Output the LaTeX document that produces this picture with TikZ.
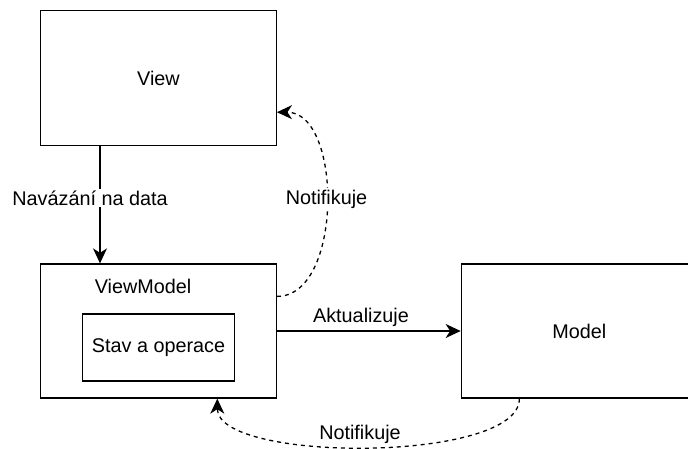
\documentclass[tikz,border=0pt]{standalone}
\usepackage{fontspec}
\setmainfont{Liberation Sans}
\usetikzlibrary{arrows.meta,calc}

\begin{document}
\begin{tikzpicture}[x=1pt,y=-1pt,
  box/.style={draw, line width=1.3pt, inner sep=0pt, font=\fontsize{19.8}{23}\selectfont},
  lbl/.style={font=\fontsize{19.8}{23}\selectfont, inner sep=1.5pt},
  arr/.style={line width=1.3pt, -{Stealth[length=15pt,width=14pt,inset=4.5pt]}},
  dashline/.style={arr, dash pattern=on 4pt off 4pt}
]
\useasboundingbox (0,0) rectangle (688,448);

% main boxes
\node[box, minimum width=235.6pt, minimum height=135pt] (view) at (158.5,78.2) {View};
\node[box, minimum width=235.6pt, minimum height=134pt] (vm) at (158.5,331) {};
\node[lbl] (vmtitle) at (143,286) {ViewModel};
\node[box, minimum width=151.6pt, minimum height=67pt] (state) at (158.5,347.5) {Stav a operace};
\node[box, minimum width=236pt, minimum height=134pt] (model) at (579.3,331) {Model};

% data binding from the view down to the view model
\coordinate (bindx) at (100,0);
\draw[arr] (view.south -| bindx) -- (vm.north -| bindx);
\node[lbl, fill=white] (bindlbl) at (90,198) {Navázání na data};

% view model updates the model
\draw[arr] (vm.east) -- (model.west);
\node[lbl] (updlbl) at (361,317) {Aktualizuje};

% notification from the view model back to the view
\coordinate (vmout) at ([yshift=-33pt]vm.north east);
\coordinate (viewin) at ([yshift=-34pt]view.east);
\draw[dashline] (vmout) .. controls (343,297) and (343,112) .. (viewin);
\node[lbl, fill=white] (notif1) at (326.5,199) {Notifikuje};

% notification from the model back to the view model
\coordinate (modelout) at ([xshift=58.7pt]model.south west);
\coordinate (vmin) at ([xshift=58.8pt]vm.south);
\draw[dashline] (modelout) .. controls (520,463) and (217.3,463) .. (vmin);
\node[lbl, fill=white] (notif2) at (360,434) {Notifikuje};
\end{tikzpicture}
\end{document}
